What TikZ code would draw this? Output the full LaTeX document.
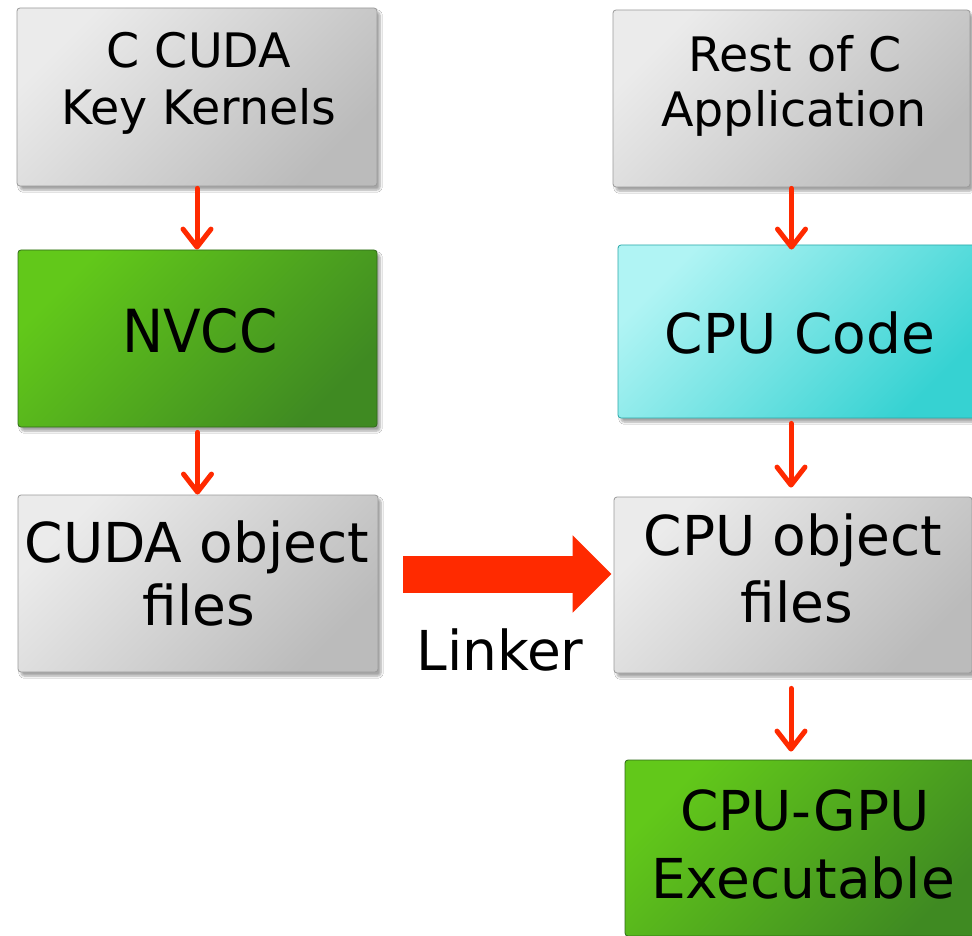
\documentclass[tikz,border=0pt]{standalone}
\usepackage{fontspec}
\setmainfont{DejaVu Sans}
\usetikzlibrary{arrows.meta,shadows.blur,calc}
\definecolor{arrowred}{HTML}{FF2A00}
\definecolor{grayL}{HTML}{EBEBEB}
\definecolor{grayD}{HTML}{BBBBBB}
\definecolor{grayE}{HTML}{9A9A9A}
\definecolor{greenL}{HTML}{62C81A}
\definecolor{greenD}{HTML}{3F8A22}
\definecolor{greenE}{HTML}{2F6A18}
\definecolor{cyanL}{HTML}{B0F4F4}
\definecolor{cyanD}{HTML}{36D2D2}
\definecolor{cyanE}{HTML}{2AA8A8}
\tikzset{
  box/.style={rectangle, rounded corners=3pt, inner sep=0pt,
    line width=0.8pt,
    blur shadow={shadow xshift=3pt, shadow yshift=-4pt, shadow blur steps=6,
      shadow blur extra rounding=1.5pt, shadow opacity=35}},
  graybox/.style={box, draw=grayE, top color=grayL, bottom color=grayD, shading angle=45},
  greenbox/.style={box, draw=greenE, top color=greenL, bottom color=greenD, shading angle=45},
  cyanbox/.style={box, draw=cyanE, top color=cyanL, bottom color=cyanD, shading angle=45},
  smalltext/.style={font=\fontsize{47.5}{57}\selectfont, anchor=base, inner sep=0pt},
  bigtext/.style={font=\fontsize{55}{65}\selectfont, anchor=base, inner sep=0pt},
  flow/.style={draw=arrowred, line width=5pt, line cap=round,
    -{Straight Barb[length=18pt, width=28pt, line cap=round, line join=round]}},
  bigarrow/.style={draw=arrowred, line width=37pt,
    -{Triangle[length=39pt, width=75pt]}}
}
\begin{document}
\begin{tikzpicture}[x=1pt, y=-1pt]
\useasboundingbox (0,0) rectangle (972,936);
\fill[white] (0,0) rectangle (972,936);
\clip (0,0) rectangle (972,936);

% left column boxes
\node[graybox, minimum width=360pt, minimum height=178pt] (kernels) at (197,97) {};
\node[greenbox, minimum width=359pt, minimum height=177pt] (nvcc) at (197.5,338.5) {};
\node[graybox, minimum width=360pt, minimum height=177pt] (cudaobj) at (198,583.5) {};

% right column boxes
\node[graybox, minimum width=357pt, minimum height=177pt] (rest) at (791.5,98.5) {};
\node[cyanbox, minimum width=360pt, minimum height=173pt] (cpucode) at (798,331.5) {};
\node[graybox, minimum width=358pt, minimum height=176pt] (cpuobj) at (793,585) {};
\node[greenbox, minimum width=360pt, minimum height=176pt] (exe) at (805,848) {};

% texts
\node[smalltext] (kernelsA) at (199,68) {C CUDA};
\node[smalltext] (kernelsB) at (199,125) {Key Kernels};
\node[bigtext] (nvccA) at (200,352) {\scalebox{1}[1.08]{NVCC}};
\node[bigtext] (cudaobjA) at (197,562) {CUDA object};
\node[bigtext] (cudaobjB) at (199,625) {files};
\node[smalltext] (restA) at (795,72) {Rest of C};
\node[smalltext] (restB) at (794,127) {Application};
\node[bigtext] (cpucodeA) at (800,353) {CPU Code};
\node[bigtext] (cpuobjA) at (793,555) {CPU object};
\node[bigtext] (cpuobjB) at (797,622) {files};
\node[bigtext] (exeA) at (805,830) {CPU-GPU};
\node[bigtext] (exeB) at (803,898) {Executable};

% thin arrows
\coordinate (a1) at ($(kernels.south)+(0,2)$);
\draw[flow] (a1) -- (a1 |- nvcc.north);
\coordinate (a2) at ($(nvcc.south)+(0,5)$);
\draw[flow] (a2) -- (a2 |- cudaobj.north);
\coordinate (a3) at ($(rest.south)+(0,1)$);
\draw[flow] (a3) -- ($(a3 |- cpucode.north)+(0,5)$);
\coordinate (a4) at ($(cpucode.south)+(-7,5)$);
\draw[flow] (a4) -- ($(a4 |- cpuobj.north)+(0,-9)$);
\coordinate (a5) at ($(cpuobj.south)+(-2,15)$);
\draw[flow] (a5) -- ($(a5 |- exe.north)+(0,-8)$);

% linker arrow
\coordinate (ls) at ($(cudaobj.east)+(25,-9.5)$);
\draw[bigarrow] (ls) -- ($(ls -| cpuobj.west)+(-2,0)$);
\node[bigtext] (linker) at (500,670) {Linker};
\end{tikzpicture}
\end{document}
